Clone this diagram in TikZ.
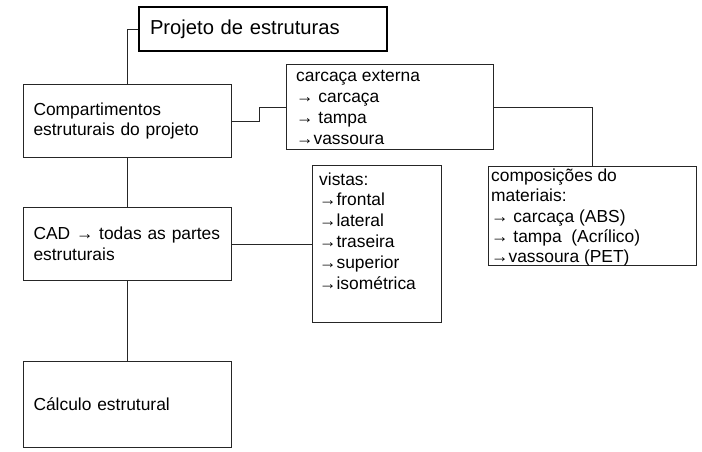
\documentclass[tikz,border=0pt]{standalone}
\usepackage{fontspec}
\setmainfont{Liberation Sans}
\begin{document}
\begin{tikzpicture}[x=1pt,y=-1pt,
  box/.style={draw=black!85,line width=1pt,rectangle,anchor=north west,inner sep=0pt},
  cbox/.style={draw=black!85,line width=1pt,rectangle,anchor=north west,inner xsep=10pt,inner ysep=0pt,align=left,
     font=\fontsize{17.4}{20.8}\selectfont},
  titlebox/.style={draw=black,line width=2pt,rectangle,anchor=north west,inner xsep=11pt,inner ysep=0pt,align=left,
     font=\fontsize{20.2}{24}\selectfont},
  txt/.style={inner sep=0pt,anchor=north west,align=left,font=\fontsize{17.4}{20.8}\selectfont},
  conn/.style={draw=black!85,line width=1pt}]
\useasboundingbox (0,0) rectangle (702,451);
\fill[white] (0,0) rectangle (702,451);
% boxes
\node[titlebox,minimum width=248pt,minimum height=44pt,text width=226pt] (title) at (138,6) {Projeto de estruturas};
\node[cbox,minimum width=208pt,minimum height=73pt,text width=188pt] (comp) at (23,84) {Compartimentos\\estruturais do projeto};
\node[cbox,minimum width=208pt,minimum height=73pt,text width=188pt] (cad) at (23,207) {CAD → todas as partes\\estruturais};
\node[cbox,minimum width=208pt,minimum height=86pt,text width=188pt] (calc) at (23,361) {Cálculo estrutural};
\node[box,minimum width=207pt,minimum height=85pt] (carc) at (286,64) {};
\node[box,minimum width=129pt,minimum height=157pt] (vistas) at (312,165) {};
\node[box,minimum width=208pt,minimum height=99pt] (compos) at (488,166) {};
% texts inside
\node[txt] (carctxt) at ([shift={(10,3.1)}]carc.north west) {\strut carcaça externa\\→ carcaça\\→ tampa\\→vassoura};
\node[txt] (vistastxt) at ([shift={(7,5.4)}]vistas.north west) {\strut vistas:\\→frontal\\→lateral\\→traseira\\→superior\\→isométrica};
\node[txt,font=\fontsize{17.4}{20.3}\selectfont] (compostxt) at ([shift={(3,1.2)}]compos.north west) {\strut composições do\\materiais:\\→ carcaça (ABS)\\→ tampa~ (Acrílico)\\→vassoura (PET)};
% connectors
\draw[conn] (title.west) -| (comp.north);
\draw[conn] (comp.south) -- (cad.north);
\draw[conn] (cad.south) -- (calc.north);
\draw[conn] (comp.east) -- ++(27,0) |- (carc.west);
\draw[conn] (carc.east) -| (compos.north);
\draw[conn] (cad.east) -- (vistas.west);
\end{tikzpicture}
\end{document}
